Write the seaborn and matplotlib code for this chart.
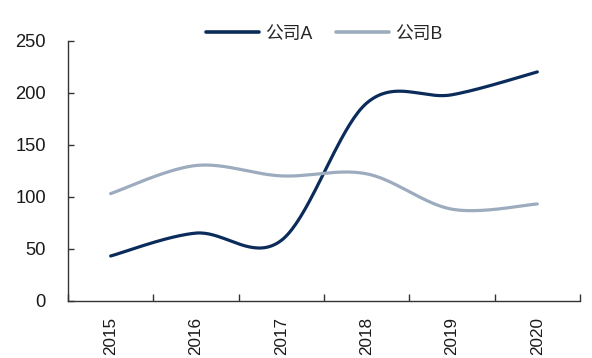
import numpy as np
import pandas as pd
import matplotlib
matplotlib.use("Agg")
import matplotlib.pyplot as plt
import seaborn as sns

# Annual values for the two companies
years = ["2015", "2016", "2017", "2018", "2019", "2020"]
company_a = [43, 65, 58, 190, 198, 220]
company_b = [103, 130, 120, 122, 88, 93]
series_names = ["公司A", "公司B"]
series_colors = ["#0B2C5B", "#9CACBE"]

sns.set_theme(style="white")
plt.rcParams["font.family"] = ["Liberation Sans", "Noto Sans CJK SC", "DejaVu Sans"]


def smooth(xs, ys, steps=40):
    """Catmull-Rom curve through every point (spreadsheet-style smoothed line)."""
    xs = np.asarray(xs, float)
    ys = np.asarray(ys, float)
    px = np.concatenate([[xs[0]], xs, [xs[-1]]])
    py = np.concatenate([[ys[0]], ys, [ys[-1]]])
    out_x, out_y = [], []
    for i in range(1, len(px) - 2):
        p0 = np.array([px[i], py[i]])
        p3 = np.array([px[i + 1], py[i + 1]])
        c1 = p0 + (np.array([px[i + 1], py[i + 1]]) - np.array([px[i - 1], py[i - 1]])) / 6
        c2 = p3 - (np.array([px[i + 2], py[i + 2]]) - np.array([px[i], py[i]])) / 6
        t = np.linspace(0, 1, steps, endpoint=(i == len(px) - 3))[:, None]
        pts = ((1 - t) ** 3) * p0 + 3 * ((1 - t) ** 2) * t * c1 + 3 * (1 - t) * t ** 2 * c2 + t ** 3 * p3
        out_x.extend(pts[:, 0])
        out_y.extend(pts[:, 1])
    return np.array(out_x), np.array(out_y)


frames = []
pos = np.arange(len(years))
for name, vals in zip(series_names, [company_a, company_b]):
    sx, sy = smooth(pos, vals)
    frames.append(pd.DataFrame({"x": sx, "y": sy, "series": name}))
df = pd.concat(frames, ignore_index=True)

fig = plt.figure(figsize=(5.92, 3.58), dpi=100)
ax = fig.add_axes([68 / 592, 57.3 / 358, 512 / 592, 260 / 358])

sns.lineplot(
    data=df, x="x", y="y", hue="series", palette=series_colors,
    hue_order=series_names, sort=False, estimator=None, units="series",
    linewidth=2.3, ax=ax,
)

ax.set_xlim(-0.5, len(years) - 0.5)
ax.set_ylim(0, 250)
ax.set_yticks([0, 50, 100, 150, 200, 250])
ax.set_xticks(pos)
ax.set_xticklabels(years, rotation=90, fontsize=12.3, color="#1a1a1a")
ax.tick_params(axis="x", which="major", bottom=False, length=0, pad=11.5)
ax.set_xticks(np.arange(-0.5, len(years)), minor=True)
ax.tick_params(axis="x", which="minor", bottom=True, direction="in", length=5, width=1, color="#333333")
ax.tick_params(axis="y", left=True, direction="in", length=4, width=1, color="#333333",
               labelsize=13.2, labelcolor="#1a1a1a", pad=16)
ax.set_xlabel("")
ax.set_ylabel("")

for side in ["top", "right"]:
    ax.spines[side].set_visible(False)
for side in ["left", "bottom"]:
    ax.spines[side].set_color("#333333")
    ax.spines[side].set_linewidth(1)

leg = ax.legend(
    loc="center", bbox_to_anchor=(0.5, 1.025), ncol=2, frameon=False,
    fontsize=12.8, handlelength=3.0, handletextpad=0.35, columnspacing=1.3,
)
for line in leg.get_lines():
    line.set_linewidth(2.6)

fig.savefig("out.png", dpi=100)
